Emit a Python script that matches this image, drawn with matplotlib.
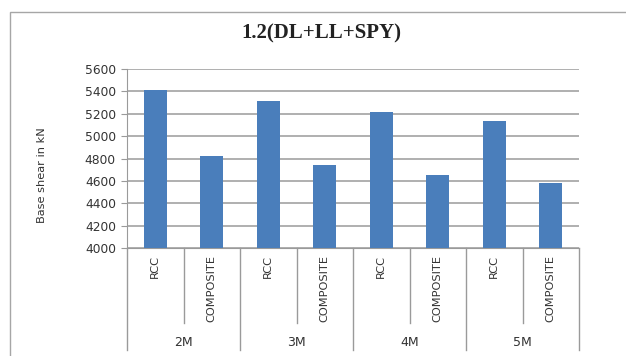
import matplotlib
matplotlib.use("Agg")
import matplotlib.pyplot as plt
from matplotlib.patches import Rectangle
import numpy as np

title = "1.2(DL+LL+SPY)"
groups = ["2M", "3M", "4M", "5M"]
types = ["RCC", "COMPOSITE"]
values = [5410, 4825, 5315, 4745, 5220, 4650, 5135, 4580]
ylabel = "Base shear in kN"
yticks = [4000, 4200, 4400, 4600, 4800, 5000, 5200, 5400, 5600]

W, H = 626, 356
fig = plt.figure(figsize=(W / 100, H / 100), dpi=100)
fig.patch.set_facecolor("white")

# outer chart frame
fig.patches.append(Rectangle((10 / W, -0.5), 2.0, 1 - 12 / H + 0.5,
                             transform=fig.transFigure, fill=False,
                             edgecolor="#a6a6a6", linewidth=1.0))

left, right, top, bottom = 127, 579, 69, 248
ax = fig.add_axes([left / W, 1 - bottom / H, (right - left) / W, (bottom - top) / H])

x = np.arange(len(values))
ax.bar(x, values, width=0.4, color="#4a7ebb", zorder=3)
ax.set_xlim(-0.5, len(values) - 0.5)
ax.set_ylim(4000, 5600)
ax.set_yticks(yticks)
ax.yaxis.grid(True, color="#9a9a9a", linewidth=1.1, zorder=0)
ax.set_axisbelow(True)
for s in ["top", "right"]:
    ax.spines[s].set_visible(False)
ax.spines["left"].set_color("#9a9a9a")
ax.spines["bottom"].set_color("#9a9a9a")
ax.tick_params(axis="y", length=4, color="#9a9a9a", pad=4, labelsize=8.8, labelcolor="#333333")
ax.set_xticks([])

trans = ax.get_xaxis_transform()
ph = bottom - top
# divider lines for category axis
for i in range(len(values) + 1):
    xd = i - 0.5
    if i % 2 == 0:
        y2 = -(350 - bottom) / ph
    else:
        y2 = -(323 - bottom) / ph
    ax.plot([xd, xd], [0, y2], transform=trans, color="#9a9a9a", linewidth=1.0, clip_on=False)

for i in range(len(values)):
    ax.text(i, -(255 - bottom) / ph, types[i % 2], transform=trans, rotation=90,
            ha="center", va="top", fontsize=8.2, color="#333333")
for g, name in enumerate(groups):
    ax.text(2 * g + 0.5, -(342 - bottom) / ph, name, transform=trans,
            ha="center", va="center", fontsize=9, color="#333333")

fig.text(42 / W, 1 - 175 / H, ylabel, rotation=90, ha="center", va="center",
         fontsize=8.2, color="#333333")
fig.text(321 / W, 1 - 33 / H, title, ha="center", va="center", fontsize=15,
         fontweight="bold", family="Liberation Serif", color="#222222")

fig.savefig("out.png", dpi=100)
